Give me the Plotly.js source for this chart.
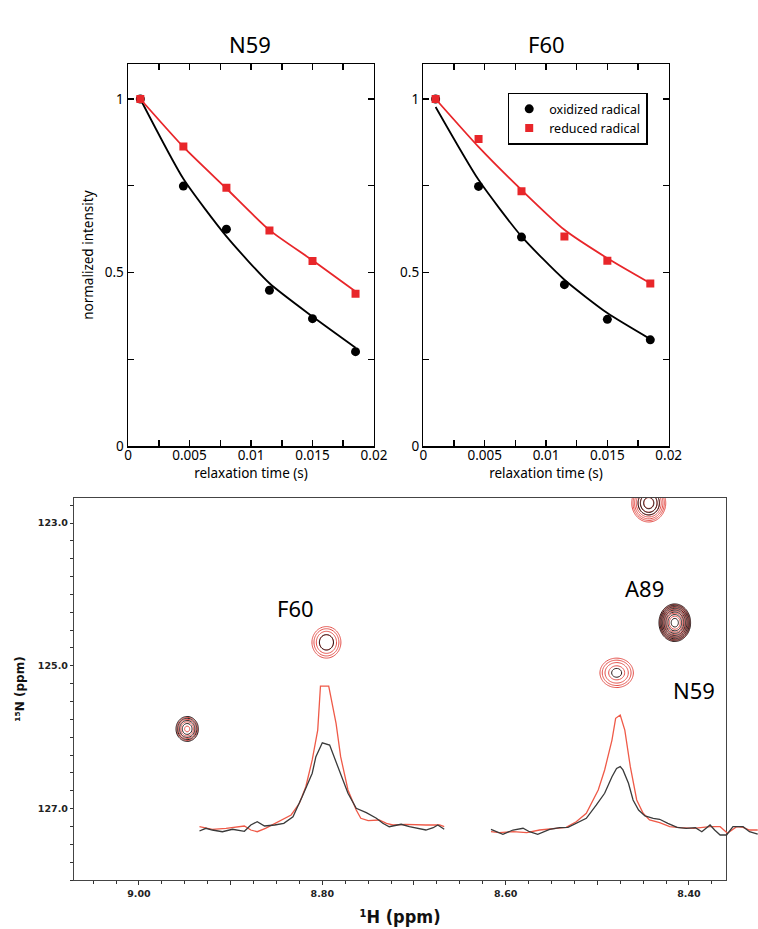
<!DOCTYPE html>
<html>
<head>
<meta charset="utf-8">
<script src="https://cdn.plot.ly/plotly-3.0.1.min.js"></script>
<style>html,body{margin:0;padding:0;background:#fff;}</style>
</head>
<body>
<div id="chart" style="width:758px;height:929px;"></div>
<script>
// ---------------- Relaxation decay data (top panels) ----------------
const relaxTime = [0.001, 0.0045, 0.008, 0.0115, 0.015, 0.0185];
const n59OxPoints  = [1.0, 0.749, 0.625, 0.449, 0.367, 0.272];
const n59RedPoints = [1.0, 0.863, 0.744, 0.621, 0.533, 0.439];
const n59OxFit     = [1.0, 0.770, 0.604, 0.469, 0.373, 0.283];
const n59RedFit    = [1.0, 0.862, 0.742, 0.622, 0.535, 0.445];
const f60OxPoints  = [1.0, 0.748, 0.602, 0.465, 0.365, 0.306];
const f60RedPoints = [1.0, 0.885, 0.734, 0.604, 0.534, 0.468];
const f60OxFit     = [0.977, 0.767, 0.604, 0.479, 0.383, 0.308];
const f60RedFit    = [1.0, 0.862, 0.738, 0.623, 0.541, 0.469];
const timeTickVals = [0, 0.0025, 0.005, 0.0075, 0.01, 0.0125, 0.015, 0.0175, 0.02];
const timeTickText = ['0', '', '0.005', '', '0.01', '', '0.015', '', '0.02'];
const intTickVals  = [0, 0.25, 0.5, 0.75, 1];
const intTickText  = ['0', '', '0.5', '', '1'];
const seriesNames  = ['oxidized radical', 'reduced radical'];
const panelNames   = ['N59', 'F60'];

// ---------------- HSQC peaks (bottom panel) ----------------
const peakNames = ['', 'F60', 'N59', 'A89', ''];
const peakH     = [8.9474, 8.7955, 8.4789, 8.4155, 8.4439];   // 1H ppm
const peakN     = [125.884, 124.671, 125.098, 124.396, 122.72]; // 15N ppm
const peakWidthH = [0.00764, 0.0096, 0.01111, 0.00764, 0.00873];
const peakWidthN = [0.1091, 0.1342, 0.1256, 0.1165, 0.125];
const peakLogHeightRed = [0.48, 0.587, 0.584, 1.033, 0.98];
const peakLogHeightOx  = [0.556, 0.14, 0.052, 1.108, 0.39];
const hTickVals = [9.0, 8.9, 8.8, 8.7, 8.6, 8.5, 8.4];
const hTickText = ['9.00', '', '8.80', '', '8.60', '', '8.40'];
const nTickVals = [123, 124, 125, 126, 127, 128];
const nTickText = ['123.0', '', '125.0', '', '127.0', ''];

// ---------------- 1D slices (bottom panel) ----------------
const f60OxH = [8.934, 8.927, 8.920, 8.909, 8.898, 8.885, 8.878, 8.871, 8.863, 8.852, 8.842, 8.832, 8.822, 8.811, 8.807, 8.800, 8.792, 8.787, 8.780, 8.772, 8.763, 8.752, 8.741, 8.734, 8.727, 8.719, 8.714, 8.705, 8.698, 8.687, 8.679, 8.674, 8.667];
const f60OxI = [-0.014, 0.005, -0.007, -0.019, -0.002, -0.016, 0.028, 0.051, 0.021, 0.028, 0.040, 0.086, 0.226, 0.390, 0.506, 0.603, 0.587, 0.506, 0.390, 0.250, 0.145, 0.114, 0.075, 0.040, 0.016, 0.028, 0.033, 0.016, 0.005, -0.007, 0.009, 0.028, -0.002];
const f60RedH = [8.934, 8.920, 8.905, 8.894, 8.885, 8.878, 8.871, 8.862, 8.852, 8.842, 8.834, 8.825, 8.818, 8.811, 8.805, 8.802, 8.793, 8.785, 8.780, 8.772, 8.763, 8.758, 8.750, 8.738, 8.730, 8.723, 8.709, 8.687, 8.672, 8.667];
const f60RedI = [0.016, -0.002, 0.005, 0.012, 0.021, -0.007, -0.019, 0.005, 0.040, 0.075, 0.098, 0.180, 0.296, 0.483, 0.692, 1.0, 1.0, 0.739, 0.506, 0.273, 0.133, 0.075, 0.058, 0.063, 0.040, 0.028, 0.033, 0.028, 0.028, 0.016];
const n59OxH = [8.616, 8.610, 8.603, 8.592, 8.581, 8.574, 8.565, 8.552, 8.541, 8.532, 8.523, 8.512, 8.501, 8.492, 8.484, 8.479, 8.475, 8.472, 8.466, 8.461, 8.455, 8.448, 8.439, 8.432, 8.423, 8.413, 8.403, 8.393, 8.386, 8.377, 8.372, 8.366, 8.359, 8.352, 8.341, 8.334, 8.325];
const n59OxI = [-0.002, -0.019, -0.037, -0.007, 0.005, -0.019, -0.037, -0.002, 0.009, 0.012, 0.040, 0.075, 0.168, 0.250, 0.366, 0.424, 0.436, 0.413, 0.320, 0.203, 0.133, 0.091, 0.075, 0.068, 0.040, 0.012, 0.005, 0.009, -0.019, 0.028, -0.007, -0.042, -0.042, 0.016, 0.016, -0.019, -0.035];
const n59RedH = [8.616, 8.607, 8.592, 8.577, 8.563, 8.548, 8.534, 8.523, 8.512, 8.499, 8.492, 8.484, 8.480, 8.475, 8.470, 8.464, 8.457, 8.450, 8.443, 8.432, 8.421, 8.410, 8.395, 8.377, 8.366, 8.358, 8.348, 8.341, 8.334, 8.325];
const n59RedI = [-0.019, -0.026, -0.019, -0.026, -0.007, 0.005, 0.012, 0.051, 0.110, 0.273, 0.413, 0.622, 0.774, 0.797, 0.692, 0.436, 0.203, 0.110, 0.063, 0.044, 0.016, 0.009, 0.005, 0.016, 0.016, -0.030, 0.016, 0.012, -0.007, -0.007];

// ---------------- styles ----------------
const BLACK = '#000000';
const RED = '#e8262a';
const CONTOUR_RED = '#e4504a';
const CONTOUR_BLACK = '#2a1c1c';
const SLICE_RED = '#ef5a48';
const SLICE_BLACK = '#3a3a3a';
const topFont = {family: 'Noto Sans, Open Sans, sans-serif', size: 13.5, color: '#000'};
const bigFont = {family: 'Noto Sans, Open Sans, sans-serif', size: 22, color: '#000'};
const nmrTickFont = {family: 'DejaVu Sans, sans-serif', size: 9.5, color: '#222', weight: 'bold'};

const traces = [];
// top panels
[[n59OxPoints, n59RedPoints, n59OxFit, n59RedFit, 'x', 'y', false],
 [f60OxPoints, f60RedPoints, f60OxFit, f60RedFit, 'x2', 'y2', true]].forEach(p => {
  traces.push({x: relaxTime, y: p[2], xaxis: p[4], yaxis: p[5], mode: 'lines', type: 'scatter',
    line: {color: BLACK, width: 1.8, shape: 'spline', smoothing: 0.6}, showlegend: false, hoverinfo: 'skip'});
  traces.push({x: relaxTime, y: p[3], xaxis: p[4], yaxis: p[5], mode: 'lines', type: 'scatter',
    line: {color: RED, width: 1.8, shape: 'spline', smoothing: 0.6}, showlegend: false, hoverinfo: 'skip'});
  traces.push({x: relaxTime, y: p[0], xaxis: p[4], yaxis: p[5], mode: 'markers', type: 'scatter',
    name: seriesNames[0], showlegend: p[6],
    marker: {color: BLACK, size: 9, symbol: 'circle'}});
  traces.push({x: relaxTime, y: p[1], xaxis: p[4], yaxis: p[5], mode: 'markers', type: 'scatter',
    name: seriesNames[1], showlegend: p[6],
    marker: {color: RED, size: 8, symbol: 'square'}});
});

// HSQC contour grids (peak model built from the read peak parameters)
const gridH = [], gridN = [];
for (let h = 9.075; h >= 8.355; h -= 0.0012) gridH.push(+h.toFixed(5));
for (let n = 122.55; n <= 128.05; n += 0.015) gridN.push(+n.toFixed(4));
function spectrum(logHeights) {
  const z = [];
  for (let j = 0; j < gridN.length; j++) {
    const row = new Array(gridH.length);
    for (let i = 0; i < gridH.length; i++) {
      let s = 0;
      for (let k = 0; k < peakH.length; k++) {
        const dh = (gridH[i] - peakH[k]) / peakWidthH[k];
        const dn = (gridN[j] - peakN[k]) / peakWidthN[k];
        const e = 0.5 * (dh * dh + dn * dn);
        if (e < 30) s += Math.pow(10, logHeights[k]) * Math.exp(-e);
      }
      row[i] = Math.log10(s + 1e-3);
    }
    z.push(row);
  }
  return z;
}
[[peakLogHeightRed, CONTOUR_RED], [peakLogHeightOx, CONTOUR_BLACK]].forEach(s => {
  traces.push({type: 'contour', x: gridH, y: gridN, z: spectrum(s[0]), xaxis: 'x3', yaxis: 'y3',
    contours: {coloring: 'lines', start: 0, end: 1.5, size: 0.15, showlabels: false},
    colorscale: [[0, s[1]], [1, s[1]]], showscale: false, line: {width: 1, smoothing: 1},
    hoverinfo: 'skip', showlegend: false});
});

// 1D slices
[[f60RedH, f60RedI, SLICE_RED], [f60OxH, f60OxI, SLICE_BLACK],
 [n59RedH, n59RedI, SLICE_RED], [n59OxH, n59OxI, SLICE_BLACK]].forEach(s => {
  traces.push({x: s[0], y: s[1], xaxis: 'x4', yaxis: 'y4', type: 'scatter', mode: 'lines',
    line: {color: s[2], width: 1.3}, showlegend: false, hoverinfo: 'skip'});
});

function topX(dom, anchor) {
  return {domain: dom, anchor: anchor, range: [0, 0.02], tickmode: 'array', tickvals: timeTickVals, ticktext: timeTickText,
    ticks: 'inside', ticklen: 6, tickwidth: 1.5, tickcolor: '#000', showline: true, linewidth: 1.5, linecolor: '#000',
    mirror: 'ticks', showgrid: false, zeroline: false, tickfont: topFont, automargin: false, ticklabelstandoff: -4,
    title: {text: 'relaxation time (s)', font: topFont, standoff: 0}};
}
function topY(anchor, withTitle) {
  const a = {domain: [0.5199, 0.9308], anchor: anchor, range: [0, 1.1], tickmode: 'array', tickvals: intTickVals, ticktext: intTickText,
    ticks: 'inside', ticklen: 6, tickwidth: 1.5, tickcolor: '#000', showline: true, linewidth: 1.5, linecolor: '#000',
    mirror: 'ticks', showgrid: false, zeroline: false, tickfont: topFont, automargin: false};
  if (withTitle) a.title = {text: 'normalized intensity', font: topFont, standoff: 8};
  return a;
}

const layout = {
  width: 758, height: 929,
  margin: {l: 0, r: 0, t: 0, b: 0},
  paper_bgcolor: '#ffffff', plot_bgcolor: 'rgba(0,0,0,0)',
  font: {family: 'Noto Sans, sans-serif', color: '#000'},
  showlegend: true,
  legend: {x: 0.8545, y: 0.9002, xanchor: 'right', yanchor: 'top', bgcolor: '#fff', bordercolor: '#000', borderwidth: 1.5,
    font: {family: 'Noto Sans, sans-serif', size: 12.5, color: '#000'}, itemwidth: 30, tracegroupgap: 0},
  xaxis: topX([0.1689, 0.4934], 'y'),
  yaxis: topY('x', true),
  xaxis2: topX([0.5585, 0.8822], 'y2'),
  yaxis2: topY('x2', false),
  xaxis3: {domain: [0.0976, 0.9578], anchor: 'y3', range: [9.0709, 8.3596], tickmode: 'array', tickvals: hTickVals, ticktext: hTickText,
    ticks: 'outside', ticklen: 4, tickwidth: 1, tickcolor: '#333', showline: true, linewidth: 1.2, linecolor: '#444', mirror: true,
    minor: {tickmode: 'linear', tick0: 9.0, dtick: 0.025, ticks: 'outside', ticklen: 3, tickcolor: '#333', showgrid: false},
    showgrid: false, zeroline: false, tickfont: nmrTickFont, automargin: false,
    title: {text: '¹H (ppm)', font: {family: 'DejaVu Sans Condensed, DejaVu Sans, sans-serif', size: 18, color: '#111', weight: 'bold'}, standoff: 12}},
  yaxis3: {domain: [0.0527, 0.4639], anchor: 'x3', range: [128.0, 122.65], tickmode: 'array', tickvals: nTickVals, ticktext: nTickText,
    ticks: 'outside', ticklen: 3, tickwidth: 1, tickcolor: '#333', showline: true, linewidth: 1.2, linecolor: '#444', mirror: true,
    minor: {tickmode: 'linear', tick0: 123, dtick: 0.25, ticks: 'outside', ticklen: 3, tickcolor: '#333', showgrid: false},
    showgrid: false, zeroline: false, tickfont: nmrTickFont, automargin: false,
    title: {text: '¹⁵N (ppm)', font: {family: 'DejaVu Sans, sans-serif', size: 12, color: '#111', weight: 'bold'}, standoff: 10}},
  xaxis4: {domain: [0.0976, 1.0], anchor: 'y4', range: [9.0709, 8.3247], visible: false, showgrid: false, zeroline: false},
  yaxis4: {domain: [0.0527, 0.4639], anchor: 'x4', range: [-0.357, 2.315], visible: false, showgrid: false, zeroline: false},
  annotations: [
    {text: panelNames[0], xref: 'paper', yref: 'paper', x: 0.3298, y: 0.9526, showarrow: false, font: bigFont, xanchor: 'center', yanchor: 'middle'},
    {text: panelNames[1], xref: 'paper', yref: 'paper', x: 0.7216, y: 0.9526, showarrow: false, font: bigFont, xanchor: 'center', yanchor: 'middle'},
    {text: peakNames[1], xref: 'x3', yref: 'y3', x: 8.8293, y: 124.189, showarrow: false, font: bigFont},
    {text: peakNames[3], xref: 'x3', yref: 'y3', x: 8.448, y: 123.916, showarrow: false, font: bigFont},
    {text: peakNames[2], xref: 'x3', yref: 'y3', x: 8.3946, y: 125.336, showarrow: false, font: bigFont}
  ]
};

Plotly.newPlot('chart', traces, layout, {displayModeBar: false, staticPlot: true});
</script>
</body>
</html>
